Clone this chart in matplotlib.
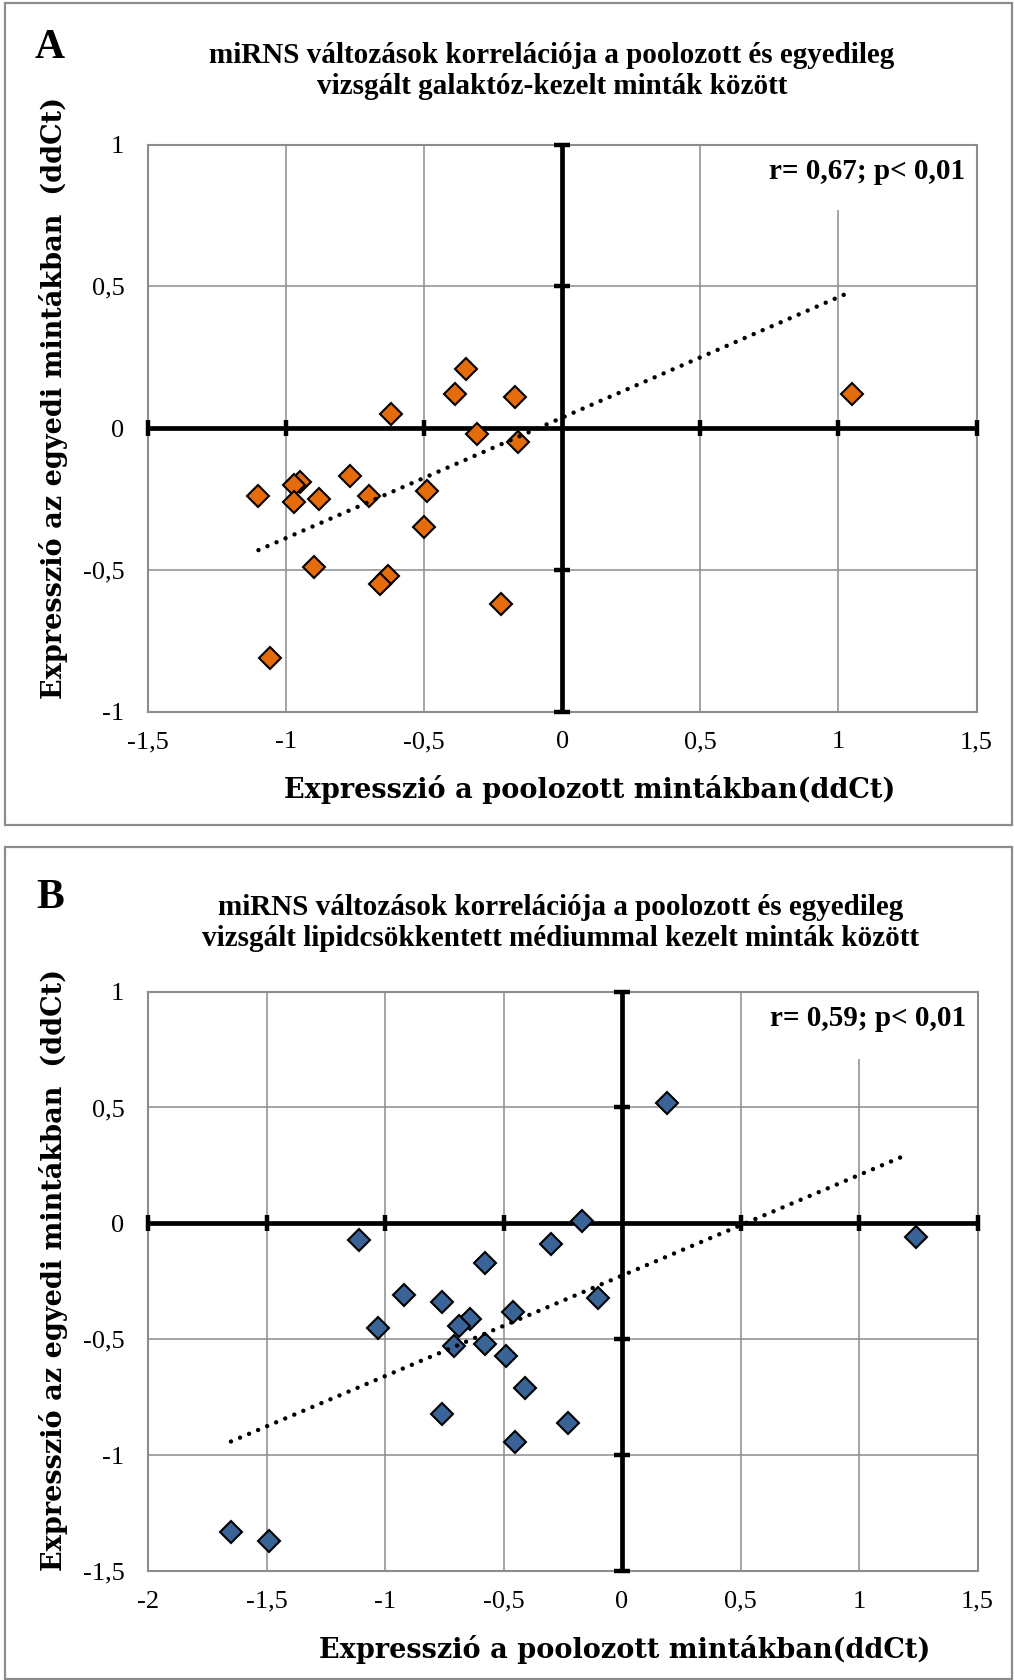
import numpy as np
import matplotlib
matplotlib.use("Agg")
import matplotlib.pyplot as plt
from matplotlib.patches import Rectangle

plt.rcParams['font.family'] = ['Liberation Serif', 'DejaVu Serif']

# ---------------- data ----------------
# Panel A: galactose-treated samples
a_x = [-0.35, -0.39, -0.17, -0.62, -0.31, -0.16, -0.77, -0.95, -0.97, -1.10,
       -0.97, -0.88, -0.70, -0.49, -0.50, -0.90, -0.63, -0.66, -0.22, -1.06, 1.05]
a_y = [0.21, 0.12, 0.11, 0.05, -0.02, -0.05, -0.17, -0.19, -0.20, -0.24,
       -0.26, -0.25, -0.24, -0.22, -0.35, -0.49, -0.52, -0.55, -0.62, -0.81, 0.12]
# linear trendline of panel A (end points)
a_trend_x = [-1.10, 1.03]
a_trend_y = [-0.43, 0.475]

# Panel B: lipid-depleted medium treated samples
b_x = [0.19, -0.17, -1.11, -0.30, -0.58, -0.92, -0.76, -0.10, -0.46, -0.64, -0.69,
       -1.03, -0.58, -0.71, -0.49, -0.41, -0.76, -0.23, -0.45, -1.65, -1.49, 1.24]
b_y = [0.52, 0.01, -0.07, -0.09, -0.17, -0.31, -0.34, -0.32, -0.38, -0.41, -0.44,
       -0.45, -0.52, -0.53, -0.57, -0.71, -0.82, -0.86, -0.94, -1.33, -1.37, -0.06]
# linear trendline of panel B (end points)
b_trend_x = [-1.65, 1.21]
b_trend_y = [-0.94, 0.30]

a_xticks = [-1.5, -1, -0.5, 0, 0.5, 1, 1.5]
a_xticklabels = ["-1,5", "-1", "-0,5", "0", "0,5", "1", "1,5"]
a_yticks = [-1, -0.5, 0, 0.5, 1]
a_yticklabels = ["-1", "-0,5", "0", "0,5", "1"]

b_xticks = [-2, -1.5, -1, -0.5, 0, 0.5, 1, 1.5]
b_xticklabels = ["-2", "-1,5", "-1", "-0,5", "0", "0,5", "1", "1,5"]
b_yticks = [-1.5, -1, -0.5, 0, 0.5, 1]
b_yticklabels = ["-1,5", "-1", "-0,5", "0", "0,5", "1"]

title_a = "miRNS változások korrelációja a poolozott és egyedileg\nvizsgált galaktóz-kezelt minták között"
title_b = "miRNS változások korrelációja a poolozott és egyedileg\nvizsgált lipidcsökkentett médiummal kezelt minták között"
xlabel = "Expresszió a poolozott mintákban(ddCt)"
ylabel = "Expresszió az egyedi mintákban  (ddCt)"
stat_a = "r= 0,67; p< 0,01"
stat_b = "r= 0,59; p< 0,01"

color_a = "#E46C0A"
color_b = "#3A6397"
grid_c = "#8c8c8c"
label_font = ['DejaVu Serif']

W, H = 1014, 1680
fig = plt.figure(figsize=(W / 100, H / 100), dpi=100)


def fx(px):
    return px / W


def fy(py):
    return 1 - py / H


def panel(rect, xs, ys, tx, ty, color, xt, xtl, yt, ytl, stat):
    ax = fig.add_axes(rect)
    ax.set_xlim(xt[0], xt[-1])
    ax.set_ylim(yt[0], yt[-1])
    ax.set_xticks(xt)
    ax.set_xticklabels(xtl)
    ax.set_yticks(yt)
    ax.set_yticklabels(ytl)
    ax.tick_params(length=0, labelsize=19)
    ax.tick_params(axis='x', pad=14)
    ax.tick_params(axis='y', pad=17)
    ax.set_axisbelow(True)
    ax.grid(True, color=grid_c, lw=1.1)
    for s in ax.spines.values():
        s.set_color(grid_c)
        s.set_linewidth(1.5)
    # white box behind the statistics text
    ax.add_patch(Rectangle((0.74, 0.884), 0.255, 0.114, transform=ax.transAxes,
                           facecolor='white', edgecolor='none', zorder=1))
    # heavy axes crossing at zero
    ax.axhline(0, color='black', lw=3.4, zorder=3)
    ax.axvline(0, color='black', lw=3.4, zorder=3)
    xtn = [v for v in xt if v != 0]
    ytn = [v for v in yt if v != 0]
    ax.plot(xtn, np.zeros(len(xtn)), ls='none', marker='|', ms=12, mew=3.2,
            color='black', zorder=3, clip_on=False)
    ax.plot(np.zeros(len(ytn)), ytn, ls='none', marker='_', ms=12, mew=3.2,
            color='black', zorder=3, clip_on=False)
    # data
    ax.plot(xs, ys, ls='none', marker='D', ms=11, mfc=color, mec='black',
            mew=1.5, zorder=4)
    ax.plot(tx, ty, color='black', lw=3.2,
            ls=(0, (0.01, 2.2)), dash_capstyle='round', zorder=5)
    ax.text(0.986, 0.953, stat, transform=ax.transAxes, ha='right', va='center',
            fontsize=21, fontweight='bold', zorder=6)
    return ax


# panel frames
fig.add_artist(Rectangle((fx(5), fy(825)), fx(1012) - fx(5), fy(3) - fy(825),
                         transform=fig.transFigure, fill=False,
                         edgecolor=grid_c, lw=1.6))
fig.add_artist(Rectangle((fx(5), fy(1679)), fx(1012) - fx(5), fy(847) - fy(1679),
                         transform=fig.transFigure, fill=False,
                         edgecolor=grid_c, lw=1.6))

axA = panel([fx(148), fy(711.7), fx(976.5) - fx(148), fy(144.7) - fy(711.7)],
            a_x, a_y, a_trend_x, a_trend_y, color_a,
            a_xticks, a_xticklabels, a_yticks, a_yticklabels, stat_a)
axB = panel([fx(148), fy(1571.4), fx(977.6) - fx(148), fy(991.5) - fy(1571.4)],
            b_x, b_y, b_trend_x, b_trend_y, color_b,
            b_xticks, b_xticklabels, b_yticks, b_yticklabels, stat_b)

# panel letters
fig.text(fx(50), fy(48), "A", fontsize=30, fontweight='bold', ha='center', va='center')
fig.text(fx(50), fy(898), "B", fontsize=30, fontweight='bold', ha='center', va='center')

# titles
fig.text(fx(552), fy(71), title_a, fontsize=21, fontweight='bold', ha='center',
         va='center', linespacing=1.2)
fig.text(fx(561), fy(923), title_b, fontsize=21, fontweight='bold', ha='center',
         va='center', linespacing=1.2)

# axis labels
fig.text(fx(590), fy(790), xlabel, fontsize=19.5, fontweight='bold', family=label_font,
         ha='center', va='center')
fig.text(fx(625), fy(1649), xlabel, fontsize=19.5, fontweight='bold', family=label_font,
         ha='center', va='center')
fig.text(fx(54), fy(398), ylabel, fontsize=19.5, fontweight='bold', family=label_font,
         ha='center', va='center', rotation=90)
fig.text(fx(54), fy(1270), ylabel, fontsize=19.5, fontweight='bold', family=label_font,
         ha='center', va='center', rotation=90)

fig.savefig("out.png", dpi=100)
